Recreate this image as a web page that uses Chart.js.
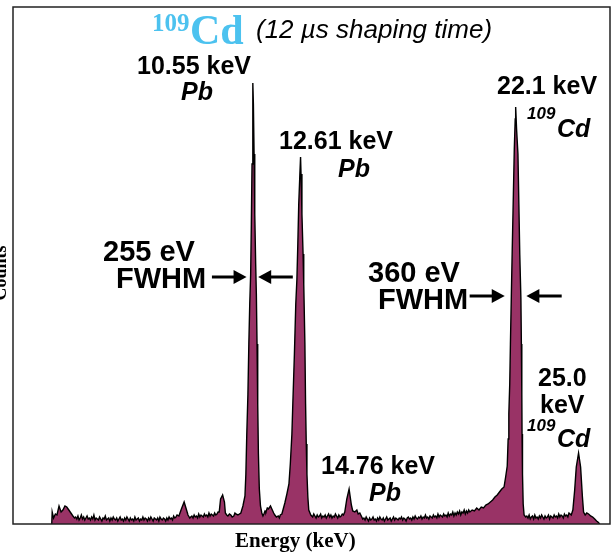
<!DOCTYPE html>
<html>
<head>
<meta charset="utf-8">
<script src="https://cdn.jsdelivr.net/npm/chart.js@4.4.1/dist/chart.umd.min.js"></script>
<style>
  html, body { margin:0; padding:0; background:#fff; }
  #wrap { width:613px; height:554px; position:relative; }
</style>
</head>
<body>
<div id="wrap"><canvas id="spec"></canvas></div>
<script>
// 109Cd spectrum, energy in keV, counts in arbitrary units
const energies = [
  1.70, 1.72, 1.78, 1.86, 1.93, 2.02, 2.11, 2.19, 2.28, 2.36, 2.45, 2.54, 2.63, 2.70,
  2.75, 2.8, 2.85, 2.9, 2.95, 3.0, 3.05, 3.1, 3.15, 3.2,
  3.25, 3.3, 3.35, 3.4, 3.45, 3.5, 3.55, 3.6, 3.65, 3.7,
  3.75, 3.8, 3.85, 3.9, 3.95, 4.0, 4.05, 4.1, 4.15, 4.2,
  4.25, 4.3, 4.35, 4.4, 4.45, 4.5, 4.55, 4.6, 4.65, 4.7,
  4.75, 4.8, 4.85, 4.9, 4.95, 5.0, 5.05, 5.1, 5.15, 5.2,
  5.25, 5.3, 5.35, 5.4, 5.45, 5.5, 5.55, 5.6, 5.65, 5.7,
  5.75, 5.8, 5.85, 5.9, 5.95, 6.0, 6.05, 6.1, 6.15, 6.2,
  6.25, 6.3, 6.35, 6.4, 6.45, 6.5, 6.55, 6.6, 6.65, 6.7,
  6.75, 6.8, 6.85, 6.9, 6.95, 7.0, 7.05, 7.1, 7.15, 7.2,
  7.28, 7.39, 7.51, 7.59, 7.68, 7.76,
  7.8, 7.85, 7.9, 7.95, 8.0, 8.05, 8.1, 8.15, 8.2, 8.25, 8.3, 8.35, 8.4,
  8.45, 8.5, 8.55, 8.6, 8.65, 8.7, 8.75, 8.8, 8.85, 8.9, 8.95, 9.0,
  9.05, 9.11, 9.2, 9.28, 9.32, 9.38, 9.43, 9.5, 9.56, 9.62, 9.69, 9.74, 9.78,
  9.87, 10.0, 10.09, 10.18, 10.22, 10.26, 10.31, 10.35, 10.39, 10.43, 10.46, 10.49, 10.52, 10.53,
  10.55, 10.58, 10.61, 10.65, 10.68, 10.71, 10.74, 10.77, 10.81, 10.86, 10.92,
  10.97, 11.01, 11.06, 11.1, 11.16, 11.21, 11.3, 11.38, 11.44, 11.49, 11.56, 11.64, 11.69, 11.73,
  11.8, 11.93, 12.02, 12.11, 12.17, 12.24, 12.28, 12.35, 12.41, 12.46, 12.5, 12.54, 12.59, 12.62,
  12.64, 12.68, 12.73, 12.76, 12.81, 12.84, 12.87, 12.9, 12.94, 12.98, 13.07,
  13.15, 13.2, 13.25, 13.3, 13.35, 13.4, 13.45, 13.5, 13.55, 13.6, 13.65, 13.7, 13.75, 13.8,
  13.85, 13.9, 13.95, 14.0, 14.05, 14.1, 14.15, 14.2, 14.25, 14.3, 14.35, 14.4, 14.45, 14.5,
  14.56, 14.65, 14.75, 14.85, 14.91, 15.0, 15.09, 15.15, 15.22, 15.35,
  15.4, 15.45, 15.5, 15.55, 15.6, 15.65, 15.7, 15.75, 15.8, 15.85,
  15.9, 15.95, 16.0, 16.05, 16.1, 16.15, 16.2, 16.25, 16.3, 16.35,
  16.4, 16.45, 16.5, 16.55, 16.6, 16.65, 16.7, 16.75, 16.8, 16.85,
  16.9, 16.95, 17.0, 17.05, 17.1, 17.15, 17.2, 17.25, 17.3, 17.35,
  17.4, 17.45, 17.5, 17.55, 17.6, 17.65, 17.7, 17.75, 17.8, 17.85,
  17.9, 17.95, 18.0, 18.05, 18.1, 18.15, 18.2, 18.25, 18.3, 18.35,
  18.4, 18.45, 18.5, 18.55, 18.6, 18.65, 18.7, 18.75, 18.8, 18.85,
  18.9, 18.95, 19.0, 19.05, 19.1, 19.15, 19.2, 19.25, 19.3, 19.35,
  19.4, 19.45, 19.5, 19.55, 19.6, 19.65, 19.7, 19.75, 19.8, 19.85,
  19.9, 19.95, 20.0,
  20.05, 20.15, 20.25, 20.35, 20.45, 20.55, 20.65, 20.75, 20.85, 20.95, 21.05, 21.15, 21.25, 21.35, 21.45, 21.55,
  21.62, 21.69, 21.73, 21.76, 21.8, 21.83, 21.87, 21.91, 21.96, 22.0, 22.04, 22.06,
  22.1, 22.16, 22.2, 22.24, 22.29, 22.31, 22.33, 22.34, 22.36, 22.39, 22.43, 22.5,
  22.55, 22.6, 22.65, 22.7, 22.75, 22.8, 22.85, 22.9, 22.95, 23.0,
  23.05, 23.1, 23.15, 23.2, 23.25, 23.3, 23.35, 23.4, 23.45, 23.5,
  23.55, 23.6, 23.65, 23.7, 23.75, 23.8, 23.85, 23.9, 23.95, 24.0,
  24.05, 24.1, 24.15, 24.2, 24.25, 24.3, 24.35, 24.4, 24.45,
  24.5, 24.57, 24.65, 24.72, 24.82, 24.91, 24.99, 25.04, 25.11, 25.18, 25.26, 25.35, 25.44, 25.53, 25.61, 25.67, 25.75
];
const counts = [
  0, 12, 6, 10, 9, 18, 12, 14, 18, 17, 14, 11, 8, 6,
  7, 5, 8, 4, 6, 9, 5, 7, 4, 6,
  8, 5, 6, 4, 7, 5, 9, 4, 6, 5,
  4, 7, 5, 3, 6, 5, 8, 4, 5, 6,
  3, 6, 4, 7, 5, 4, 6, 3, 5, 7,
  4, 5, 3, 6, 4, 7, 5, 3, 6, 4,
  5, 3, 7, 4, 5, 6, 3, 5, 4, 7,
  4, 6, 5, 3, 6, 4, 7, 5, 3, 6,
  5, 4, 6, 3, 7, 5, 4, 6, 5, 3,
  6, 4, 7, 5, 6, 4, 8, 6, 7, 9,
  8, 15, 22, 16, 9, 6,
  7, 8, 6, 9, 7, 8, 6, 10, 7, 9, 8, 7, 10,
  8, 9, 7, 11, 8, 10, 9, 8, 11, 9, 10, 12,
  12, 25, 29, 22, 11, 9, 8, 10, 9, 7, 8, 11, 10,
  9, 11, 18, 28, 50, 90, 130, 180, 220, 250, 300, 360, 420, 441,
  420, 370, 310, 260, 230, 180, 120, 70, 35, 18, 11,
  8, 10, 13, 12, 16, 15, 18, 14, 11, 9, 7, 8, 6, 9,
  10, 21, 30, 40, 60, 90, 120, 170, 220, 245, 280, 320, 350, 367,
  350, 310, 270, 240, 180, 120, 80, 50, 27, 14, 9,
  7, 10, 8, 6, 9, 7, 8, 10, 6, 8, 7, 9, 6, 8,
  10, 7, 9, 6, 8, 7, 10, 8, 6, 9, 7, 8, 10, 9,
  12, 25, 35, 19, 13, 12, 14, 10, 11, 5,
  6, 4, 7, 5, 3, 6, 4, 5, 7, 4,
  5, 3, 6, 4, 7, 5, 4, 6, 3, 5,
  7, 4, 5, 6, 3, 5, 7, 4, 6, 5,
  4, 6, 5, 7, 4, 6, 5, 3, 6, 7,
  5, 6, 4, 7, 5, 8, 6, 5, 7, 6,
  8, 5, 7, 6, 9, 6, 7, 5, 8, 7,
  6, 9, 7, 8, 6, 10, 7, 9, 8, 7,
  10, 8, 9, 7, 11, 8, 10, 9, 12, 8,
  11, 9, 12, 10, 13, 9, 12, 11, 14, 10,
  13, 11, 14,
  12, 14, 13, 16, 14, 17, 16, 19, 20, 22, 24, 27, 29, 32, 35, 37,
  47, 58, 85, 110, 140, 180, 228, 275, 330, 375, 405, 417,
  395, 370, 320, 270, 225, 180, 130, 90, 50, 20, 9, 7,
  8, 6, 9, 5, 7, 8, 5, 9, 6, 7,
  5, 8, 6, 9, 7, 5, 8, 6, 7, 9,
  5, 8, 7, 6, 9, 7, 8, 6, 10, 7,
  9, 8, 6, 10, 8, 9, 7, 11, 10,
  9, 14, 34, 57, 71, 57, 27, 12, 9, 11, 10, 8, 7, 5, 3, 2, 0
];

// FWHM arrows: [tail keV, tip keV, counts level]
const fwhmArrows = [
  [8.73, 10.25, 247],
  [12.28, 10.76, 247],
  [20.04, 21.58, 228],
  [24.08, 22.53, 228]
];

const SANS = '"Liberation Sans", Arial, sans-serif';
const SERIF = '"Liberation Serif", "Times New Roman", serif';

function txt(ctx, s, x, y, font, color) {
  ctx.font = font;
  ctx.fillStyle = color || '#000';
  ctx.fillText(s, x, y);
}

const annotate = {
  id: 'annotate',
  afterDraw(chart) {
    const ctx = chart.ctx, a = chart.chartArea;
    const xs = chart.scales.x, ys = chart.scales.y;
    ctx.save();
    // frame
    ctx.strokeStyle = '#222';
    ctx.lineWidth = 1.5;
    ctx.strokeRect(a.left, a.top, a.right - a.left, a.bottom - a.top);

    ctx.textAlign = 'left';
    ctx.textBaseline = 'alphabetic';
    // title
    txt(ctx, '109', 152, 31, 'bold 25px ' + SERIF, '#4cc2ef');
    txt(ctx, 'Cd', 190, 44, 'bold 42px ' + SERIF, '#4cc2ef');
    txt(ctx, '(12 \u00b5s shaping time)', 256, 38, 'italic 26px ' + SANS);

    // peak labels
    const B = 'bold 25px ' + SANS, BI = 'italic bold 25px ' + SANS, SUP = 'italic bold 17px ' + SANS;
    txt(ctx, '10.55 keV', 137, 74, B);
    txt(ctx, 'Pb', 181, 100, BI);
    txt(ctx, '12.61 keV', 279, 149, B);
    txt(ctx, 'Pb', 338, 177, BI);
    txt(ctx, '22.1 keV', 497, 94, B);
    txt(ctx, '109', 527, 119, SUP);
    txt(ctx, 'Cd', 557, 137, BI);
    txt(ctx, '14.76 keV', 321, 474, B);
    txt(ctx, 'Pb', 369, 501, BI);
    txt(ctx, '25.0', 538, 386, B);
    txt(ctx, 'keV', 540, 413, B);
    txt(ctx, '109', 527, 431, SUP);
    txt(ctx, 'Cd', 557, 447, BI);

    const F = 'bold 29px ' + SANS;
    txt(ctx, '255 eV', 103, 261, F);
    txt(ctx, 'FWHM', 116, 288, F);
    txt(ctx, '360 eV', 368, 282, F);
    txt(ctx, 'FWHM', 378, 309, F);

    // arrows
    ctx.strokeStyle = '#000';
    ctx.fillStyle = '#000';
    ctx.lineWidth = 3;
    fwhmArrows.forEach(([e0, e1, c]) => {
      const x0 = xs.getPixelForValue(e0), x1 = xs.getPixelForValue(e1), y = ys.getPixelForValue(c);
      const dir = x1 > x0 ? 1 : -1;
      ctx.beginPath();
      ctx.moveTo(x0, y);
      ctx.lineTo(x1 - dir * 10, y);
      ctx.stroke();
      ctx.beginPath();
      ctx.moveTo(x1, y);
      ctx.lineTo(x1 - dir * 13, y - 7);
      ctx.lineTo(x1 - dir * 13, y + 7);
      ctx.closePath();
      ctx.fill();
    });

    // axis titles
    txt(ctx, 'Energy (keV)', 235, 547, 'bold 21px ' + SERIF);
    ctx.translate(6, 273);
    ctx.rotate(-Math.PI / 2);
    ctx.textAlign = 'center';
    txt(ctx, 'Counts', 0, 0, 'bold 18px ' + SERIF);
    ctx.restore();
  }
};

new Chart(document.getElementById('spec'), {
  type: 'line',
  data: {
    datasets: [{
      label: '109Cd',
      data: energies.map((e, i) => ({ x: e, y: counts[i] })),
      borderColor: '#000',
      borderWidth: 1.4,
      backgroundColor: '#993366',
      fill: 'origin',
      pointRadius: 0,
      tension: 0
    }]
  },
  options: {
    responsive: true,
    maintainAspectRatio: false,
    animation: false,
    layout: { padding: { left: 13, top: 7, right: 3, bottom: 30 } },
    plugins: { legend: { display: false }, tooltip: { enabled: false } },
    scales: {
      x: { type: 'linear', min: 0, max: 26.2, grid: { display: false, drawTicks: false, tickLength: 0 }, border: { display: false }, ticks: { display: false, padding: 0 } },
      y: { min: 0, max: 517, grid: { display: false, drawTicks: false, tickLength: 0 }, border: { display: false }, ticks: { display: false, padding: 0 } }
    }
  },
  plugins: [annotate]
});
</script>
</body>
</html>
